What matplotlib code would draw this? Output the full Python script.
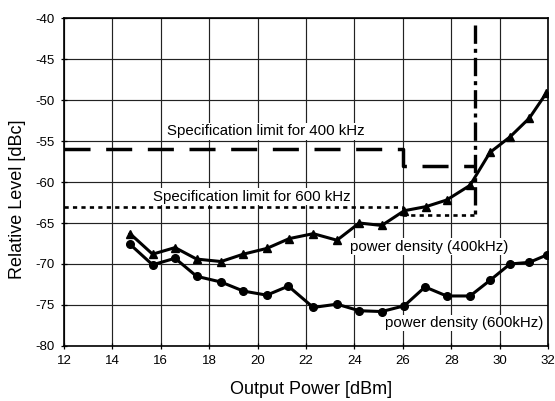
import numpy as np
import matplotlib as mpl
mpl.use('Agg')
import matplotlib.pyplot as plt

plt.rcParams['font.family'] = ['Liberation Sans', 'DejaVu Sans']
plt.rcParams['axes.unicode_minus'] = False

p400_x = [14.73, 15.66, 16.59, 17.48, 18.49, 19.41, 20.38, 21.31, 22.3, 23.28,
          24.2, 25.13, 26.06, 26.96, 27.81, 28.78, 29.6, 30.43, 31.23, 31.92, 32.25]
p400_y = [-66.3, -68.8, -68.0, -69.4, -69.7, -68.8, -68.1, -66.9, -66.3, -67.1,
          -65.0, -65.3, -63.5, -63.0, -62.2, -60.4, -56.4, -54.5, -52.2, -49.2, -49.8]

p600_x = [14.73, 15.66, 16.59, 17.48, 18.49, 19.41, 20.38, 21.27, 22.3, 23.28,
          24.2, 25.13, 26.06, 26.92, 27.81, 28.78, 29.6, 30.43, 31.23, 31.95, 32.3]
p600_y = [-67.6, -70.1, -69.3, -71.5, -72.2, -73.3, -73.8, -72.7, -75.3, -74.9,
          -75.7, -75.8, -75.1, -72.8, -73.9, -73.9, -72.0, -70.0, -69.8, -68.9, -67.2]

# specification limits
spec400_x = [12, 26, 26, 29]
spec400_y = [-56, -56, -58, -58]
spec600_x = [12, 26, 26, 29]
spec600_y = [-63, -63, -64, -64]
vert_x = [29, 29]
vert_y = [-40.9, -64]

xticks = np.arange(12, 33, 2)
yticks = np.arange(-80, -39, 5)

fig = plt.figure(figsize=(5.55, 4.01), dpi=100)
ax = fig.add_axes([0.1153, 0.1372, 0.8721, 0.8178])

ax.set_xlim(12, 32)
ax.set_ylim(-80, -40)
ax.set_xticks(xticks)
ax.set_yticks(yticks)
ax.grid(True, color='#222222', lw=0.85)
ax.set_axisbelow(True)
ax.tick_params(direction='inout', length=5, width=0.9, labelsize=9.5, pad=4)
for s in ax.spines.values():
    s.set_linewidth(1.2)

ax.plot(spec400_x, spec400_y, color='black', lw=2.5, dashes=(7.5, 4.5), zorder=3)
ax.plot(spec600_x, spec600_y, color='black', lw=1.9, dashes=(1.6, 1.6), zorder=3)
ax.plot(vert_x, vert_y, color='black', lw=2.4, dashes=(5.5, 1.5, 1.2, 1.5), zorder=3)

ax.plot(p400_x, p400_y, color='black', lw=2.2, marker='^', ms=5.5, zorder=4)
ax.plot(p600_x, p600_y, color='black', lw=2.2, marker='o', ms=5.5, zorder=4)

box = dict(facecolor='white', edgecolor='none', pad=1)
ax.text(16.26, -53.8, 'Specification limit for 400 kHz', fontsize=10.8, va='center', bbox=box, zorder=2)
ax.text(15.68, -61.8, 'Specification limit for 600 kHz', fontsize=10.8, va='center', bbox=box, zorder=2)
ax.text(23.82, -67.9, 'power density (400kHz)', fontsize=10.8, va='center', bbox=box, zorder=2)
ax.text(25.26, -77.2, 'power density (600kHz)', fontsize=10.8, va='center', bbox=box, zorder=2)

ax.set_xlabel('Output Power [dBm]', fontsize=13, va='center')
ax.set_ylabel('Relative Level [dBc]', fontsize=13, va='center')
ax.xaxis.set_label_coords(0.51, -0.134)
ax.yaxis.set_label_coords(-0.096, 0.447)

fig.savefig('out.png', dpi=100)
